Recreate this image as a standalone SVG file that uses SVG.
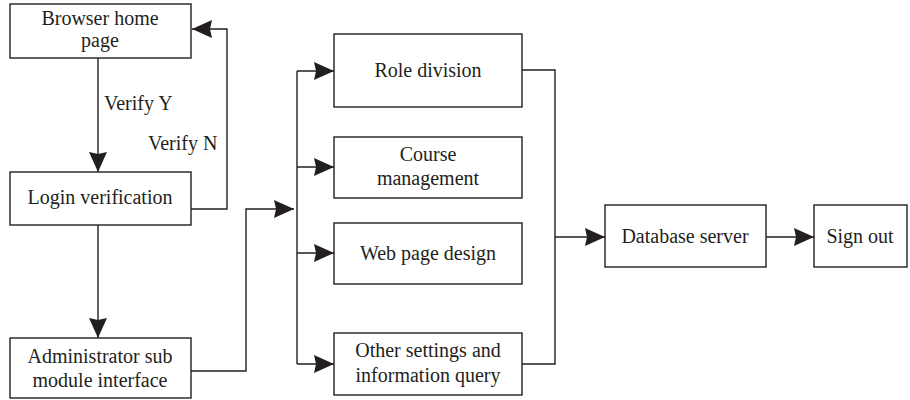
<svg xmlns="http://www.w3.org/2000/svg" width="910" height="400" viewBox="0 0 910 400">
<defs>
<marker id="ah" markerUnits="userSpaceOnUse" markerWidth="21" markerHeight="19" refX="20" refY="9" orient="auto">
<path d="M0,0 L20,9 L0,18 L2,9 z" fill="#231f20"/>
</marker>
<style>
.box{fill:#fff;stroke:#231f20;stroke-width:1.4}
.t{font-family:"Liberation Serif","Times New Roman",serif;font-size:20px;fill:#231f20;text-anchor:middle}
.l{font-family:"Liberation Serif","Times New Roman",serif;font-size:20px;fill:#231f20}
.c{fill:none;stroke:#231f20;stroke-width:1.4}
</style>
</defs>
<rect width="910" height="400" fill="#fff"/>
<g id="connectors">
<path class="c" d="M98,58 V172" marker-end="url(#ah)"/>
<path class="c" d="M191,209 H227 V29 H192" marker-end="url(#ah)"/>
<path class="c" d="M98,225 V338" marker-end="url(#ah)"/>
<path class="c" d="M191,371 H246 V209 H294" marker-end="url(#ah)"/>
<path class="c" d="M297,71 V364"/>
<path class="c" d="M297,71 H334" marker-end="url(#ah)"/>
<path class="c" d="M297,167 H334" marker-end="url(#ah)"/>
<path class="c" d="M297,253 H334" marker-end="url(#ah)"/>
<path class="c" d="M297,364 H334" marker-end="url(#ah)"/>
<path class="c" d="M522,70 H555 V364 H522"/>
<path class="c" d="M555,237 H605" marker-end="url(#ah)"/>
<path class="c" d="M766,237 H814" marker-end="url(#ah)"/>
<text class="l" x="104" y="110">Verify Y</text>
<text class="l" x="148" y="150">Verify N</text>
</g>
<g id="browser">
<rect class="box" x="10" y="4" width="181" height="54"/>
<text class="t" x="100" y="25">Browser home</text>
<text class="t" x="100" y="47">page</text>
</g>
<g id="login">
<rect class="box" x="10" y="172" width="181" height="53"/>
<text class="t" x="100" y="204">Login verification</text>
</g>
<g id="admin">
<rect class="box" x="10" y="338" width="181" height="60"/>
<text class="t" x="100" y="363">Administrator sub</text>
<text class="t" x="100" y="387">module interface</text>
</g>
<g id="role">
<rect class="box" x="334" y="34" width="188" height="73"/>
<text class="t" x="428" y="77">Role division</text>
</g>
<g id="course">
<rect class="box" x="334" y="137" width="188" height="61"/>
<text class="t" x="428" y="161">Course</text>
<text class="t" x="428" y="185">management</text>
</g>
<g id="web">
<rect class="box" x="334" y="223" width="188" height="61"/>
<text class="t" x="428" y="260">Web page design</text>
</g>
<g id="other">
<rect class="box" x="334" y="333" width="188" height="62"/>
<text class="t" x="428" y="357">Other settings and</text>
<text class="t" x="428" y="382">information query</text>
</g>
<g id="database">
<rect class="box" x="605" y="205" width="161" height="62"/>
<text class="t" x="685" y="243">Database server</text>
</g>
<g id="signout">
<rect class="box" x="814" y="205" width="93" height="62"/>
<text class="t" x="860" y="243">Sign out</text>
</g>
</svg>
